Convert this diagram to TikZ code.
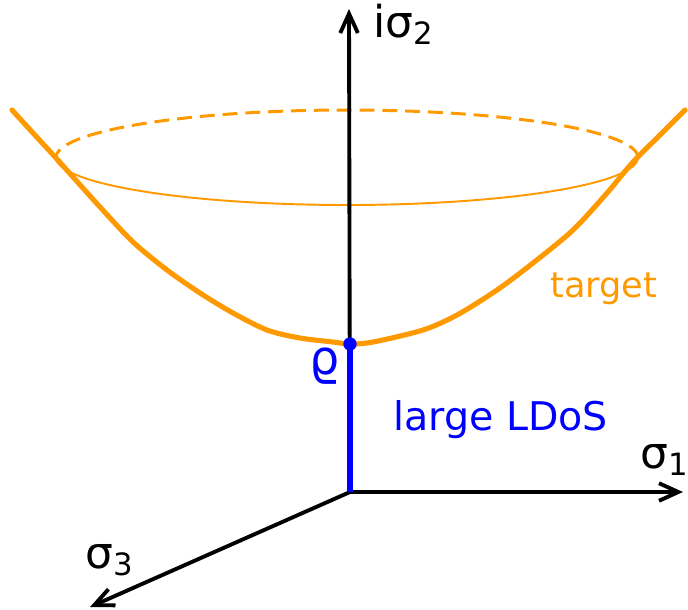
\documentclass[tikz,border=0pt]{standalone}
\usepackage{fontspec}
\setmainfont{DejaVu Sans}
\usetikzlibrary{positioning, arrows.meta}
\definecolor{targetorange}{RGB}{255,153,0}
\definecolor{ldosblue}{RGB}{0,0,255}

\begin{document}
\begin{tikzpicture}[
  x=0.02cm, y=-0.02cm,
  axisline/.style={-{Straight Barb[length=11pt, width=10pt]}, line width=2.2pt, black},
  targetcurve/.style={targetorange, line width=2.9pt, line cap=round, line join=round},
  ringfront/.style={targetorange, line width=1.1pt},
  ringback/.style={targetorange, line width=1.7pt, dash pattern=on 8.5pt off 4.5pt},
  ldosline/.style={ldosblue, line width=3.2pt},
  axislabel/.style={inner sep=0pt, font=\fontsize{25}{28}\selectfont},
  textlabel/.style={inner sep=0pt, font=\fontsize{22.5}{26}\selectfont}
]
\useasboundingbox (0,0) rectangle (688,609);

% -------- EIXOS --------
\coordinate (O) at (350,492);
\coordinate (ytop) at (349,9);
\coordinate (xend) at (683,492);
\coordinate (zend) at (90,607);
\coordinate (rho) at (350,344);

% -------- ELIPSE (corte do alvo) --------
\draw[ringback] plot[domain=0:180, samples=90] ({347+291*cos(\x)}, {157.5-47.5*sin(\x)});
\draw[ringfront] plot[domain=180:360, samples=90] ({347+291*cos(\x)}, {157.5-47.5*sin(\x)});

\draw[axisline] (O) -- (ytop);
\draw[axisline] (O) -- (xend);
\draw[axisline] (O) -- (zend);

% -------- SUPERFICIE ALVO --------
\draw[targetcurve] plot[smooth, tension=0.5] coordinates {
  (12,110) (33,133) (56,158) (100,207) (133,242) (167,270) (200,293)
  (233,313) (267,330) (300,338) (333,342) (350,344)
  (373,342) (423,330) (457,315) (497,290) (533,263) (573,230)
  (607,193) (633,162) (660,135) (685,110)};

% -------- LINHA LDoS --------
\draw[ldosline] (O) -- (rho);
\fill[ldosblue] (rho) circle[radius=3.8pt];

% -------- ROTULOS --------
\node[axislabel, anchor=base west] (ylab) at (373,37) {iσ\textsubscript{2}};
\node[axislabel, anchor=base west] (xlab) at (640,468) {σ\textsubscript{1}};
\node[axislabel, anchor=base west] (zlab) at (85,568) {σ\textsubscript{3}};
\node[textlabel, ldosblue, font=\fontsize{27}{30}\selectfont, left=0.2cm of rho, yshift=-0.45cm] (rholab) {ϱ};
\node[textlabel, ldosblue, anchor=base west] (ldoslab) at (393,430) {large LDoS};
\node[textlabel, targetorange, font=\fontsize{20}{24}\selectfont, anchor=base west] (targetlab) at (550,297) {target};

\end{tikzpicture}
\end{document}
